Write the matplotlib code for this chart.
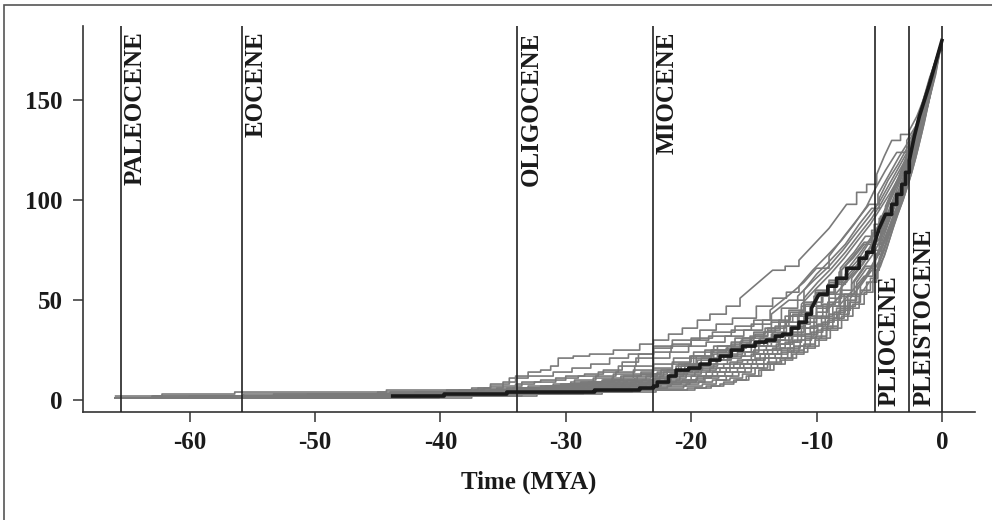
import matplotlib
matplotlib.use("Agg")
import matplotlib.pyplot as plt
from matplotlib.transforms import blended_transform_factory
from matplotlib.patches import Rectangle

# epoch boundaries (MYA, negative = past)
epoch_names = ["PALEOCENE", "EOCENE", "OLIGOCENE", "MIOCENE", "PLIOCENE", "PLEISTOCENE"]
epoch_starts = [-65.5, -55.8, -33.9, -23.03, -5.332, -2.588]
label_on_top = [True, True, True, True, False, False]
present = 0.0

x_ticks = [-60, -50, -40, -30, -20, -10, 0]
x_tick_labels = ["-60", "-50", "-40", "-30", "-20", "-10", "0"]
y_ticks = [0, 50, 100, 150]
y_tick_labels = ["0", "50", "100", "150"]

tree_a = [(-65.9, 2), (-62.2, 3), (-56.4, 4), (-44.3, 5), (-37, 6), (-36, 7), (-35, 9), (-34, 12), (-33, 14),
          (-32, 15), (-31.2, 17), (-30.6, 21), (-29.4, 22), (-28.1, 23), (-26.2, 25), (-24.1, 28), (-23, 30),
          (-21.8, 33), (-20.7, 36), (-19.5, 40), (-18.5, 43), (-17.2, 47), (-16.1, 51), (-14.8, 58), (-13.5, 65),
          (-12.5, 67), (-11.4, 70), (-10.2, 78), (-9, 86), (-7.6, 98), (-6.8, 104), (-6, 108), (-5.2, 113),
          (-4.6, 122), (-4, 130), (-3.3, 133), (-2.6, 135), (-2, 142), (-1.5, 150), (-0.8, 163), (0, 180)]
tree_b = [(-65.9, 1), (-63, 2), (-55.7, 3), (-45, 4), (-39.5, 5), (-37.5, 6), (-36, 8), (-34.5, 11), (-33, 12),
          (-31, 14), (-29.5, 16), (-28, 18), (-26.5, 21), (-25, 23), (-23, 27), (-21.5, 30), (-19.3, 35),
          (-18, 38), (-16.7, 41), (-14.8, 47), (-13.5, 51), (-12.4, 54), (-11.4, 57), (-10.3, 65), (-9.2, 72),
          (-8, 80), (-7, 88), (-6, 97), (-5.3, 106), (-4.5, 115), (-3.6, 124), (-2.8, 130), (-2, 138),
          (-1.3, 150), (-0.6, 165), (0, 180)]
tree_c = [(-65.9, 1), (-60, 2), (-53.3, 3), (-44, 4), (-38.5, 5), (-36.5, 6), (-35, 7), (-33.5, 9), (-32, 10),
          (-30, 12), (-28.5, 13), (-27, 15), (-25.5, 19), (-24.2, 23), (-23, 26), (-21.5, 28), (-20, 31),
          (-18.3, 34), (-16.5, 37), (-15, 40), (-13.7, 45), (-12.3, 52), (-11, 59), (-10, 66), (-9, 72),
          (-7.8, 82), (-6.8, 90), (-5.8, 98), (-5.1, 103), (-4.2, 113), (-3.4, 122), (-2.6, 130), (-1.9, 138),
          (-1.2, 150), (-0.5, 167), (0, 180)]
tree_d = [(-65.9, 1), (-58.9, 2), (-50.6, 3), (-42, 4), (-37.3, 5), (-35.5, 6), (-34, 8), (-32.5, 9),
          (-30.8, 11), (-29, 12), (-27.4, 14), (-25.8, 17), (-24.4, 21), (-23, 24), (-21.6, 27), (-20, 30),
          (-18.6, 32), (-16.8, 35), (-15.2, 38), (-13.6, 43), (-12.2, 50), (-11, 55), (-10, 63), (-8.9, 70),
          (-7.7, 78), (-6.6, 88), (-5.6, 96), (-5, 101), (-4.3, 110), (-3.5, 118), (-2.7, 127), (-2, 135),
          (-1.3, 147), (-0.6, 163), (0, 180)]
tree_e = [(-65.9, 1), (-57.7, 2), (-48.7, 3), (-40.5, 4), (-36.8, 5), (-34.7, 6), (-33, 7), (-31, 8),
          (-29.3, 10), (-27.6, 12), (-26, 14), (-24.5, 17), (-23, 21), (-21.7, 24), (-20.2, 27), (-18.8, 29),
          (-17.3, 32), (-15.8, 35), (-14.3, 40), (-12.8, 46), (-11.5, 52), (-10.2, 60), (-9, 67), (-7.9, 75),
          (-6.8, 84), (-5.8, 92), (-5, 99), (-4.2, 108), (-3.4, 117), (-2.6, 126), (-1.9, 136), (-1.2, 148),
          (-0.5, 165), (0, 180)]
tree_f = [(-65.9, 1), (-56.8, 2), (-47.1, 3), (-39, 4), (-36, 5), (-33.8, 6), (-31.5, 7), (-29.6, 9),
          (-27.8, 11), (-26.2, 13), (-24.6, 15), (-23, 18), (-21.4, 21), (-19.8, 24), (-18.2, 27), (-16.5, 31),
          (-15, 34), (-13.6, 39), (-12.2, 45), (-11, 51), (-9.9, 59), (-8.8, 66), (-7.7, 74), (-6.6, 83),
          (-5.6, 91), (-4.8, 99), (-4, 108), (-3.2, 117), (-2.5, 125), (-1.8, 135), (-1.1, 148), (-0.5, 164),
          (0, 180)]
tree_g = [(-65.9, 1), (-55.3, 2), (-46.2, 3), (-38.5, 4), (-35.4, 5), (-33.2, 6), (-30.8, 7), (-28.9, 8),
          (-27.1, 10), (-25.4, 12), (-24, 14), (-23, 16), (-21.5, 19), (-20, 22), (-18.4, 25), (-16.8, 28),
          (-15.3, 32), (-13.9, 36), (-12.5, 42), (-11.2, 48), (-10, 56), (-8.9, 63), (-7.8, 71), (-6.7, 80),
          (-5.7, 88), (-4.9, 96), (-4.1, 104), (-3.3, 113), (-2.6, 122), (-1.9, 132), (-1.2, 146), (-0.5, 163),
          (0, 180)]
tree_h = [(-65.9, 1), (-54.3, 2), (-44.6, 3), (-37.8, 4), (-35.2, 5), (-33.6, 6), (-31.4, 7), (-29.8, 8),
          (-28.2, 9), (-26.3, 11), (-24.6, 13), (-23.1, 15), (-21.5, 18), (-20.1, 22), (-18.9, 25), (-17.9, 27),
          (-16.8, 29), (-15.9, 31), (-14.9, 33), (-14.1, 36), (-13, 40), (-12.1, 44), (-11, 49), (-10.1, 55),
          (-9, 60), (-8.1, 66), (-7, 74), (-6.1, 82), (-5.4, 88), (-4.9, 92), (-4.4, 98), (-3.9, 105),
          (-3.4, 112), (-2.9, 120), (-2.4, 130), (-1.9, 140), (-1.4, 150), (-0.9, 162), (-0.4, 171), (0, 180)]
tree_i = [(-65.9, 1), (-53.7, 2), (-43.2, 3), (-37.2, 4), (-34.8, 5), (-33.1, 6), (-30.9, 7), (-29.2, 8),
          (-27.5, 9), (-25.7, 10), (-24.3, 12), (-22.7, 14), (-21.2, 17), (-19.8, 21), (-18.4, 24), (-17.2, 26),
          (-16.1, 29), (-15.2, 31), (-14.2, 34), (-13.3, 37), (-12.2, 42), (-11.2, 47), (-10.2, 52), (-9.1, 58),
          (-8.2, 64), (-7.1, 71), (-6.2, 78), (-5.5, 84), (-5.0, 89), (-4.5, 96), (-4.0, 103), (-3.5, 110),
          (-3.0, 118), (-2.5, 128), (-2.0, 138), (-1.5, 148), (-1.0, 160), (-0.5, 170), (0, 180)]
tree_j = [(-65.9, 1), (-52.2, 2), (-42.7, 3), (-36.6, 4), (-34.1, 5), (-32.2, 6), (-30.1, 7), (-28.3, 8),
          (-26.6, 9), (-25.1, 10), (-23.6, 12), (-22.2, 14), (-20.8, 17), (-19.5, 20), (-18.2, 23), (-17.0, 25),
          (-15.8, 27), (-14.6, 30), (-13.6, 33), (-12.6, 37), (-11.5, 42), (-10.5, 47), (-9.6, 53), (-8.6, 58),
          (-7.7, 63), (-6.7, 70), (-5.9, 78), (-5.2, 85), (-4.6, 92), (-4.1, 100), (-3.6, 107), (-3.1, 114),
          (-2.6, 123), (-2.1, 134), (-1.6, 145), (-1.1, 157), (-0.6, 168), (0, 180)]
tree_k = [(-65.9, 1), (-51.1, 2), (-41.1, 3), (-35.8, 4), (-33.3, 5), (-31.0, 6), (-29.0, 7), (-27.2, 8),
          (-25.4, 9), (-23.9, 10), (-22.5, 12), (-21.1, 14), (-19.9, 17), (-18.6, 20), (-17.4, 22), (-16.3, 24),
          (-15.2, 27), (-14.2, 29), (-13.1, 33), (-12.1, 37), (-11.0, 42), (-10.0, 47), (-9.0, 53), (-8.0, 59),
          (-7.0, 66), (-6.1, 73), (-5.4, 80), (-4.8, 86), (-4.3, 94), (-3.8, 102), (-3.3, 110), (-2.8, 118),
          (-2.3, 128), (-1.8, 139), (-1.3, 151), (-0.8, 163), (-0.3, 173), (0, 180)]
tree_l = [(-65.9, 1), (-50.1, 2), (-40.6, 3), (-35.0, 4), (-32.5, 5), (-30.3, 6), (-28.0, 7), (-26.0, 8),
          (-24.4, 9), (-23.0, 11), (-21.6, 13), (-20.3, 15), (-19.1, 17), (-17.9, 20), (-16.8, 22), (-15.7, 24),
          (-14.6, 27), (-13.6, 30), (-12.5, 33), (-11.5, 38), (-10.5, 42), (-9.5, 48), (-8.5, 53), (-7.5, 60),
          (-6.5, 67), (-5.7, 74), (-5.0, 81), (-4.5, 88), (-4.0, 96), (-3.5, 104), (-3.0, 112), (-2.5, 122),
          (-2.0, 133), (-1.5, 145), (-1.0, 157), (-0.5, 169), (0, 180)]
tree_m = [(-65.9, 1), (-48.2, 2), (-39.5, 3), (-34.4, 4), (-31.7, 5), (-29.4, 6), (-27.3, 7), (-25.3, 8),
          (-23.5, 9), (-22.1, 10), (-20.9, 12), (-19.7, 14), (-18.5, 16), (-17.4, 18), (-16.3, 20), (-15.2, 23),
          (-14.2, 25), (-13.2, 28), (-12.2, 32), (-11.2, 36), (-10.2, 41), (-9.2, 47), (-8.2, 52), (-7.2, 58),
          (-6.3, 66), (-5.5, 73), (-4.9, 80), (-4.4, 87), (-3.9, 96), (-3.4, 103), (-2.9, 113), (-2.4, 122),
          (-1.9, 134), (-1.4, 146), (-0.9, 159), (-0.4, 171), (0, 180)]
tree_n = [(-65.9, 1), (-46.6, 2), (-38.5, 3), (-33.7, 4), (-30.5, 5), (-28.2, 6), (-26.1, 7), (-24.2, 8),
          (-22.6, 9), (-21.2, 10), (-20.0, 12), (-18.8, 14), (-17.7, 16), (-16.6, 18), (-15.5, 20), (-14.5, 23),
          (-13.5, 26), (-12.5, 29), (-11.5, 33), (-10.5, 37), (-9.6, 42), (-8.7, 47), (-7.8, 53), (-6.8, 59),
          (-6.0, 66), (-5.3, 72), (-4.7, 79), (-4.2, 87), (-3.7, 95), (-3.2, 104), (-2.7, 114), (-2.2, 125),
          (-1.7, 137), (-1.2, 149), (-0.7, 162), (-0.2, 175), (0, 180)]
tree_o = [(-65.9, 1), (-45.0, 2), (-37.6, 3), (-32.9, 4), (-29.6, 5), (-27.0, 6), (-24.9, 7), (-23.1, 8),
          (-21.5, 9), (-20.2, 10), (-19.0, 12), (-17.9, 14), (-16.9, 16), (-15.8, 18), (-14.8, 21), (-13.8, 23),
          (-12.8, 26), (-11.8, 30), (-10.9, 33), (-9.9, 38), (-9.0, 43), (-8.1, 48), (-7.1, 55), (-6.2, 62),
          (-5.5, 68), (-4.9, 75), (-4.4, 82), (-3.9, 91), (-3.4, 99), (-2.9, 108), (-2.4, 118), (-1.9, 130),
          (-1.4, 142), (-0.9, 156), (-0.4, 169), (0, 180)]
tree_p = [(-65.9, 1), (-43.2, 2), (-36.4, 3), (-31.8, 4), (-28.3, 5), (-25.4, 6), (-23.3, 7), (-21.6, 8),
          (-20.1, 9), (-18.9, 11), (-17.8, 12), (-16.7, 14), (-15.7, 16), (-14.7, 18), (-13.8, 21), (-12.8, 24),
          (-11.8, 27), (-10.9, 31), (-10.0, 35), (-9.1, 40), (-8.2, 45), (-7.3, 51), (-6.4, 58), (-5.6, 65),
          (-5.0, 71), (-4.5, 78), (-4.0, 88), (-3.5, 96), (-3.0, 105), (-2.5, 115), (-2.0, 127), (-1.5, 139),
          (-1.0, 153), (-0.5, 167), (0, 180)]
tree_q = [(-65.9, 1), (-41.6, 2), (-35.0, 3), (-30.3, 4), (-26.8, 5), (-23.2, 6), (-20.6, 7), (-19.1, 8),
          (-18.0, 10), (-16.9, 11), (-15.9, 13), (-14.9, 16), (-13.9, 19), (-12.9, 21), (-12.0, 25), (-11.0, 28),
          (-10.1, 32), (-9.2, 37), (-8.3, 43), (-7.4, 49), (-6.5, 55), (-5.7, 61), (-5.1, 67), (-4.6, 75),
          (-4.1, 85), (-3.6, 93), (-3.1, 102), (-2.6, 112), (-2.1, 123), (-1.6, 136), (-1.1, 150), (-0.6, 165),
          (0, 180)]
tree_r = [(-65.9, 1), (-40.1, 2), (-33.5, 3), (-28.6, 4), (-24.7, 5), (-20.3, 6), (-18.8, 7), (-17.7, 8),
          (-16.6, 10), (-15.6, 12), (-14.6, 15), (-13.7, 18), (-12.8, 20), (-11.9, 23), (-11.0, 26), (-10.1, 30),
          (-9.2, 35), (-8.3, 40), (-7.5, 46), (-6.6, 52), (-5.8, 59), (-5.2, 65), (-4.6, 72), (-4.1, 82),
          (-3.6, 92), (-3.1, 100), (-2.6, 110), (-2.1, 121), (-1.6, 134), (-1.1, 148), (-0.6, 163), (0, 180)]
tree_s = [(-65.9, 1), (-62.9, 2), (-49.3, 3), (-39.8, 4), (-35.8, 5), (-34.2, 6), (-32.0, 7), (-30.4, 8),
          (-28.8, 9), (-27.0, 10), (-25.6, 12), (-24.0, 13), (-22.4, 15), (-21.0, 18), (-19.6, 22), (-18.3, 25),
          (-17.1, 27), (-16.0, 30), (-15.0, 32), (-13.9, 35), (-12.9, 39), (-11.9, 43), (-10.9, 48), (-10.0, 54),
          (-9.0, 59), (-8.0, 65), (-7.1, 72), (-6.2, 79), (-5.6, 85), (-5.0, 91), (-4.5, 97), (-4.0, 104),
          (-3.5, 111), (-3.0, 119), (-2.5, 128), (-2.0, 139), (-1.5, 150), (-1.0, 161), (-0.5, 170), (0, 180)]
tree_t = [(-65.9, 1), (-60.0, 2), (-47.7, 3), (-38.9, 4), (-35.1, 5), (-33.4, 6), (-31.6, 7), (-29.7, 8),
          (-27.9, 9), (-26.1, 10), (-24.5, 11), (-23.2, 13), (-21.9, 15), (-20.5, 18), (-19.2, 21), (-17.9, 24),
          (-16.7, 26), (-15.6, 28), (-14.5, 31), (-13.5, 34), (-12.4, 39), (-11.4, 44), (-10.4, 49), (-9.5, 54),
          (-8.5, 59), (-7.6, 65), (-6.6, 73), (-5.8, 80), (-5.1, 87), (-4.6, 94), (-4.1, 101), (-3.6, 108),
          (-3.1, 116), (-2.6, 125), (-2.1, 135), (-1.6, 146), (-1.1, 158), (-0.6, 168), (0, 180)]
tree_u = [(-65.9, 1), (-58.6, 2), (-45.4, 3), (-37.9, 4), (-34.5, 5), (-32.0, 6), (-29.8, 7), (-27.7, 8),
          (-25.9, 9), (-24.3, 10), (-22.9, 11), (-21.7, 13), (-20.5, 15), (-19.2, 18), (-18.0, 20), (-16.9, 23),
          (-15.9, 24), (-14.9, 27), (-13.9, 29), (-12.9, 32), (-11.9, 36), (-10.9, 41), (-10.0, 46), (-9.0, 51),
          (-8.0, 57), (-7.1, 64), (-6.2, 71), (-5.5, 78), (-4.9, 84), (-4.4, 91), (-3.9, 99), (-3.4, 106),
          (-2.9, 115), (-2.4, 124), (-1.9, 136), (-1.4, 148), (-0.9, 160), (-0.4, 171), (0, 180)]
tree_v = [(-65.9, 1), (-56.5, 2), (-44.0, 3), (-36.9, 4), (-33.0, 5), (-30.6, 6), (-28.6, 7), (-26.6, 8),
          (-24.8, 9), (-23.3, 10), (-21.9, 12), (-20.6, 14), (-19.4, 16), (-18.2, 18), (-17.1, 21), (-16.0, 22),
          (-15.0, 25), (-14.0, 27), (-13.0, 30), (-12.0, 34), (-11.0, 39), (-10.0, 44), (-9.1, 49), (-8.1, 55),
          (-7.2, 61), (-6.3, 68), (-5.6, 75), (-5.0, 80), (-4.5, 87), (-4.0, 96), (-3.5, 103), (-3.0, 112),
          (-2.5, 121), (-2.0, 133), (-1.5, 145), (-1.0, 157), (-0.5, 168), (0, 180)]
tree_w = [(-65.9, 1), (-49.3, 2), (-42.2, 3), (-35.3, 4), (-31.2, 5), (-28.8, 6), (-26.7, 7), (-24.7, 8),
          (-23.0, 9), (-21.6, 11), (-20.4, 13), (-19.2, 15), (-18.0, 16), (-16.9, 19), (-15.9, 20), (-14.9, 23),
          (-13.9, 25), (-12.9, 28), (-11.9, 32), (-10.9, 36), (-10.0, 41), (-9.0, 46), (-8.0, 53), (-7.0, 59),
          (-6.1, 67), (-5.4, 73), (-4.8, 79), (-4.3, 88), (-3.8, 96), (-3.3, 104), (-2.8, 113), (-2.3, 124),
          (-1.8, 136), (-1.3, 148), (-0.8, 161), (-0.3, 173), (0, 180)]
tree_x = [(-65.9, 1), (-47.7, 2), (-41.1, 3), (-34.0, 4), (-30.0, 5), (-27.6, 6), (-25.5, 7), (-23.6, 8),
          (-22.0, 9), (-20.7, 10), (-19.5, 12), (-18.3, 14), (-17.2, 16), (-16.1, 18), (-15.1, 20), (-14.1, 23),
          (-13.1, 25), (-12.1, 29), (-11.2, 32), (-10.2, 37), (-9.3, 41), (-8.4, 46), (-7.5, 52), (-6.5, 58),
          (-5.8, 65), (-5.1, 73), (-4.5, 80), (-4.0, 90), (-3.5, 98), (-3.0, 107), (-2.5, 117), (-2.0, 128),
          (-1.5, 141), (-1.0, 154), (-0.5, 167), (0, 180)]
tree_y = [(-65.9, 1), (-45.4, 2), (-39.0, 3), (-32.4, 4), (-28.9, 5), (-26.2, 6), (-24.1, 7), (-22.4, 8),
          (-20.8, 9), (-19.6, 11), (-18.4, 12), (-17.3, 14), (-16.3, 16), (-15.2, 18), (-14.2, 21), (-13.3, 23),
          (-12.3, 26), (-11.3, 30), (-10.4, 34), (-9.5, 39), (-8.6, 44), (-7.7, 50), (-6.8, 56), (-5.9, 63),
          (-5.3, 70), (-4.7, 77), (-4.2, 86), (-3.7, 94), (-3.2, 102), (-2.7, 111), (-2.2, 122), (-1.7, 134),
          (-1.2, 147), (-0.7, 161), (-0.2, 175), (0, 180)]
tree_z = [(-65.9, 1), (-44.0, 2), (-38.0, 3), (-31.2, 4), (-27.4, 5), (-24.3, 6), (-21.9, 7), (-20.4, 8),
          (-19.4, 9), (-18.3, 10), (-17.2, 12), (-16.2, 14), (-15.2, 16), (-14.2, 18), (-13.2, 21), (-12.3, 24),
          (-11.4, 27), (-10.5, 31), (-9.6, 36), (-8.7, 41), (-7.8, 47), (-6.9, 53), (-6.0, 59), (-5.4, 65),
          (-4.8, 72), (-4.3, 81), (-3.8, 90), (-3.3, 98), (-2.8, 107), (-2.3, 118), (-1.8, 130), (-1.3, 143),
          (-0.8, 158), (-0.3, 172), (0, 180)]
tree_aa = [(-65.9, 1), (-37.5, 2), (-32.3, 3), (-27.1, 4), (-22.8, 5), (-19.7, 6), (-18.4, 7), (-17.4, 9),
           (-16.4, 10), (-15.4, 12), (-14.4, 15), (-13.4, 18), (-12.5, 21), (-11.6, 24), (-10.7, 27), (-9.8, 31),
           (-8.9, 36), (-8.0, 42), (-7.1, 48), (-6.2, 54), (-5.5, 60), (-4.9, 67), (-4.4, 76), (-3.9, 86),
           (-3.4, 95), (-2.9, 104), (-2.4, 114), (-1.9, 126), (-1.4, 139), (-0.9, 154), (-0.4, 170), (0, 180)]

grey_trees = [tree_a, tree_b, tree_c, tree_d, tree_e, tree_f, tree_g, tree_h, tree_i, tree_j,
              tree_k, tree_l, tree_m, tree_n, tree_o, tree_p, tree_q, tree_r, tree_s, tree_t,
              tree_u, tree_v, tree_w, tree_x, tree_y, tree_z, tree_aa]

# the highlighted tree
main_tree = [(-43.8, 2), (-39.7, 3), (-34.7, 4), (-27.7, 5), (-24.1, 6), (-23.0, 7), (-22.7, 9), (-21.8, 12),
             (-21.2, 15), (-20.2, 16), (-19.3, 18), (-18.5, 20), (-17.7, 22), (-16.8, 25), (-15.9, 27),
             (-14.9, 29), (-14.0, 30), (-13.3, 32), (-12.7, 33), (-12.0, 36), (-11.4, 39), (-10.8, 43),
             (-10.4, 46), (-9.8, 53), (-9.1, 57), (-8.4, 61), (-7.6, 66), (-6.6, 71), (-6.0, 74), (-5.5, 76),
             (-5.0, 86), (-4.5, 93), (-4.0, 98), (-3.6, 103), (-3.2, 108), (-2.9, 114), (-2.6, 120), (-2.2, 132),
             (-1.8, 142), (-1.4, 150), (-1.0, 158), (-0.5, 169), (0, 180)]


def stair(tree):
    # small jumps drawn as steps, big (late, rapid) jumps as straight runs
    xs = [tree[0][0]]
    ys = [tree[0][1]]
    for (t0, n0), (t1, n1) in zip(tree[:-1], tree[1:]):
        if n1 - n0 <= 6:
            xs += [t1, t1]
            ys += [n0, n1]
        else:
            xs.append(t1)
            ys.append(n1)
    return xs, ys


font = {"family": "Liberation Serif", "weight": "bold", "size": 18}
plt.rcParams["font.family"] = "Liberation Serif"
plt.rcParams["font.weight"] = "bold"

fig = plt.figure(figsize=(9.92, 5.2), dpi=100)
ax = fig.add_axes([83 / 992, 1 - 412 / 520, (975 - 83) / 992, (412 - 26) / 520])

for tree in grey_trees:
    xs, ys = stair(tree)
    ax.plot(xs, ys, color="#7a7a7a", lw=1.2, zorder=2)

for x in epoch_starts + [present]:
    ax.axvline(x, color="#222222", lw=1.2, zorder=3)

xs, ys = stair(main_tree)
ax.plot(xs, ys, color="#1a1a1a", lw=2.6, zorder=4)

trans = blended_transform_factory(ax.transData, ax.transAxes)
for name, x, top in zip(epoch_names, epoch_starts, label_on_top):
    if top:
        ax.annotate(name, xy=(x, 1.0), xycoords=trans, xytext=(2, -4), textcoords="offset points",
                    rotation=90, ha="left", va="top", color="#1a1a1a", **font)
    else:
        ax.annotate(name, xy=(x, 0.0), xycoords=trans, xytext=(2, 4), textcoords="offset points",
                    rotation=90, ha="left", va="bottom", color="#1a1a1a", **font)

ax.set_xlim(-68.5, 2.64)
ax.set_ylim(-6.0, 187.3)
ax.set_xticks(x_ticks)
ax.set_xticklabels(x_tick_labels, **font)
ax.set_yticks(y_ticks)
ax.set_yticklabels(y_tick_labels, **font)
ax.tick_params(axis="both", direction="out", length=7.5, width=1.1, color="#333333", labelcolor="#1a1a1a")
ax.tick_params(axis="x", pad=6)
ax.tick_params(axis="y", pad=7)
for side in ["top", "right"]:
    ax.spines[side].set_visible(False)
for side in ["left", "bottom"]:
    ax.spines[side].set_color("#333333")
    ax.spines[side].set_linewidth(1.2)
ax.set_xlabel("Time (MYA)", labelpad=12, color="#1a1a1a", **font)

# thin frame around the figure
fig.patches.append(Rectangle((4 / 992, -0.2), 1.2, 1.2 - 5 / 520, transform=fig.transFigure,
                             fill=False, edgecolor="#555555", lw=1.2))

fig.savefig("out.png", dpi=100)
